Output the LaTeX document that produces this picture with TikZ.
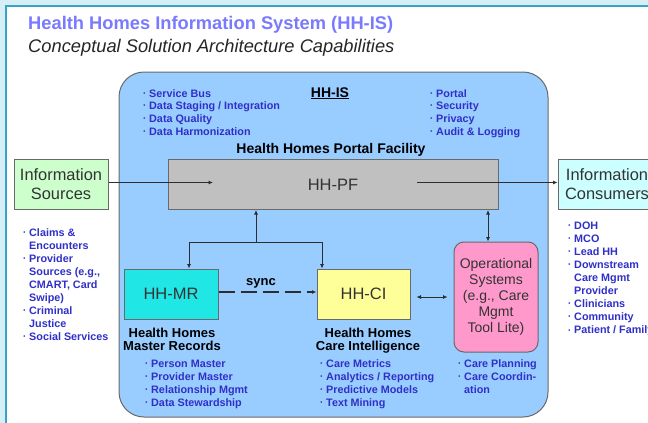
\documentclass[tikz,border=0pt]{standalone}
\usepackage{fontspec}
\setmainfont{Liberation Sans}
\usetikzlibrary{arrows.meta}
\definecolor{bandc}{RGB}{214,238,245}
\definecolor{tealc}{RGB}{52,165,200}
\definecolor{titlec}{RGB}{122,122,255}
\definecolor{bulc}{RGB}{48,48,200}
\definecolor{isfill}{RGB}{153,204,255}
\definecolor{pffill}{RGB}{192,192,192}
\definecolor{srcfill}{RGB}{204,255,204}
\definecolor{consfill}{RGB}{204,255,255}
\definecolor{mrfill}{RGB}{32,230,230}
\definecolor{cifill}{RGB}{255,255,153}
\definecolor{opsfill}{RGB}{255,153,204}
\definecolor{edgec}{RGB}{105,105,105}
\definecolor{linec}{RGB}{45,45,45}
\newcommand\bu{\llap{\raisebox{1.8pt}{\scalebox{0.55}{•}}\hspace{3.8pt}}}
\begin{document}
\begin{tikzpicture}[x=1pt,y=-1pt,
 box/.style={draw=edgec, line width=1pt, inner sep=0pt},
 bul/.style={anchor=base west, inner sep=0pt, text=bulc, font=\fontsize{10.8}{13}\selectfont\bfseries},
 lbl/.style={anchor=base, inner sep=0pt, font=\fontsize{13}{13}\selectfont\bfseries},
 conn/.style={draw=linec, line width=0.8pt, -{Latex[length=4.5pt,width=4pt]}},
 dconn/.style={draw=linec, line width=0.8pt, {Latex[length=4.5pt,width=4pt]}-{Latex[length=4.5pt,width=4pt]}},
]
\useasboundingbox (0,0) rectangle (648,423);
\clip (0,0) rectangle (648,423);
\fill[white] (0,0) rectangle (648,423);
\fill[bandc] (0,0) rectangle (648,5);
\fill[bandc] (0,0) rectangle (5,423);
\draw[tealc, line width=2pt] (6,423) -- (6,6) -- (648,6);

% titles
\node[anchor=base west, inner sep=0pt, text=titlec, font=\fontsize{18.3}{20}\selectfont\bfseries] (title) at (28,29) {Health Homes Information System (HH-IS)};
\node[anchor=base west, inner sep=0pt, text=black!85, font=\fontsize{18.3}{20}\selectfont\itshape] (subtitle) at (28,52) {Conceptual Solution Architecture Capabilities};

% main HH-IS box
\node[box, fill=isfill, rounded corners=25pt, minimum width=429pt, minimum height=345pt] (is) at (333.5,244.5) {};
\node[lbl, font=\fontsize{14}{14}\selectfont\bfseries] (islbl) at (330,97) {\underline{HH-IS}};

% top bullets
\foreach \t [count=\i from 0] in {Service Bus, Data Staging / Integration, Data Quality, Data Harmonization}
  \node[bul] (tl\i) at (149,97+12.7*\i) {\bu\t};
\foreach \t [count=\i from 0] in {Portal, Security, Privacy, Audit \& Logging}
  \node[bul] (tr\i) at (436,97+12.7*\i) {\bu\t};

\node[lbl, font=\fontsize{14}{14}\selectfont\bfseries] (pflbl) at (331,153) {Health Homes Portal Facility};

% boxes
\node[box, fill=pffill, minimum width=330pt, minimum height=50pt, font=\fontsize{16.5}{19}\selectfont, text=black!80] (pf) at (333,184.5) {HH-PF};
\node[box, fill=srcfill, minimum width=94pt, minimum height=50pt, align=center, font=\fontsize{16.4}{19}\selectfont, text=black!80] (src) at (61,184.5) {Information\\Sources};
\node[box, fill=consfill, minimum width=98pt, minimum height=50pt, align=center, font=\fontsize{16.4}{19}\selectfont, text=black!80] (cons) at (607,184.5) {Information\\Consumers};
\node[box, fill=mrfill, minimum width=94pt, minimum height=50pt, font=\fontsize{16.5}{19}\selectfont, text=black!80] (mr) at (171,294) {HH-MR};
\node[box, fill=cifill, minimum width=93pt, minimum height=50pt, font=\fontsize{16.5}{19}\selectfont, text=black!80] (ci) at (363.5,294) {HH-CI};
\node[box, fill=opsfill, rounded corners=10pt, minimum width=84pt, minimum height=110pt, align=center, font=\fontsize{14}{16}\selectfont, text=black!80] (ops) at (496,297) {Operational\\Systems\\(e.g., Care\\Mgmt\\Tool Lite)};

% side bullets
\foreach \t [count=\i from 0] in {\bu Claims \&, Encounters, \bu Provider, {Sources (e.g.,}, {CMART, Card}, Swipe), \bu Criminal, Justice, \bu Social Services}
  \node[bul] (sb\i) at (29,236+13*\i) {\t};
\foreach \t [count=\i from 0] in {DOH, MCO, Lead HH, Downstream, Care Mgmt, Provider, Clinicians, Community, Patient / Family}
  \node[bul] (cb\i) at (574,229+13.1*\i) {\ifnum\i=4 \else\ifnum\i=5 \else\bu\fi\fi\t};

% lower labels
\node[lbl] (mrl1) at (172,337) {Health Homes};
\node[lbl] (mrl2) at (172,350) {Master Records};
\node[lbl] (cil1) at (368,337) {Health Homes};
\node[lbl] (cil2) at (368,350) {Care Intelligence};
\foreach \t [count=\i from 0] in {Person Master, Provider Master, Relationship Mgmt, Data Stewardship}
  \node[bul] (mb\i) at (151,367+13*\i) {\bu\t};
\foreach \t [count=\i from 0] in {Care Metrics, Analytics / Reporting, Predictive Models, Text Mining}
  \node[bul] (ib\i) at (326,367+13*\i) {\bu\t};
\node[bul] (ob0) at (464,367) {\bu Care Planning};
\node[bul] (ob1) at (464,380) {\bu Care Coordin-};
\node[bul] (ob2) at (464,393) {ation};

% connectors
\coordinate (pfin) at (213,182.5);
\coordinate (pfout) at (417,182.5);
\coordinate (j) at (256,242);
\draw[conn] (src.east |- pfin) -- (pfin);
\draw[conn] (pfout) -- (pfout -| cons.west);
\draw[conn] (j) -- (j |- pf.south);
\draw[conn] (j) -| ([xshift=18pt]mr.north);
\draw[conn] (j) -| ([xshift=-41.5pt]ci.north);
\draw[conn, line width=1.3pt, dash pattern=on 16pt off 6pt] ([yshift=2pt]mr.east) -- ([yshift=2pt]ci.west);
\node[lbl] (sync) at (261,285) {sync};
\draw[dconn] ([xshift=-8pt]ops.north) -- ([xshift=-8pt]ops.north |- pf.south);
\draw[dconn] ([xshift=6pt]ci.east |- ops.west) -- ([xshift=-6pt]ops.west);
\end{tikzpicture}
\end{document}
